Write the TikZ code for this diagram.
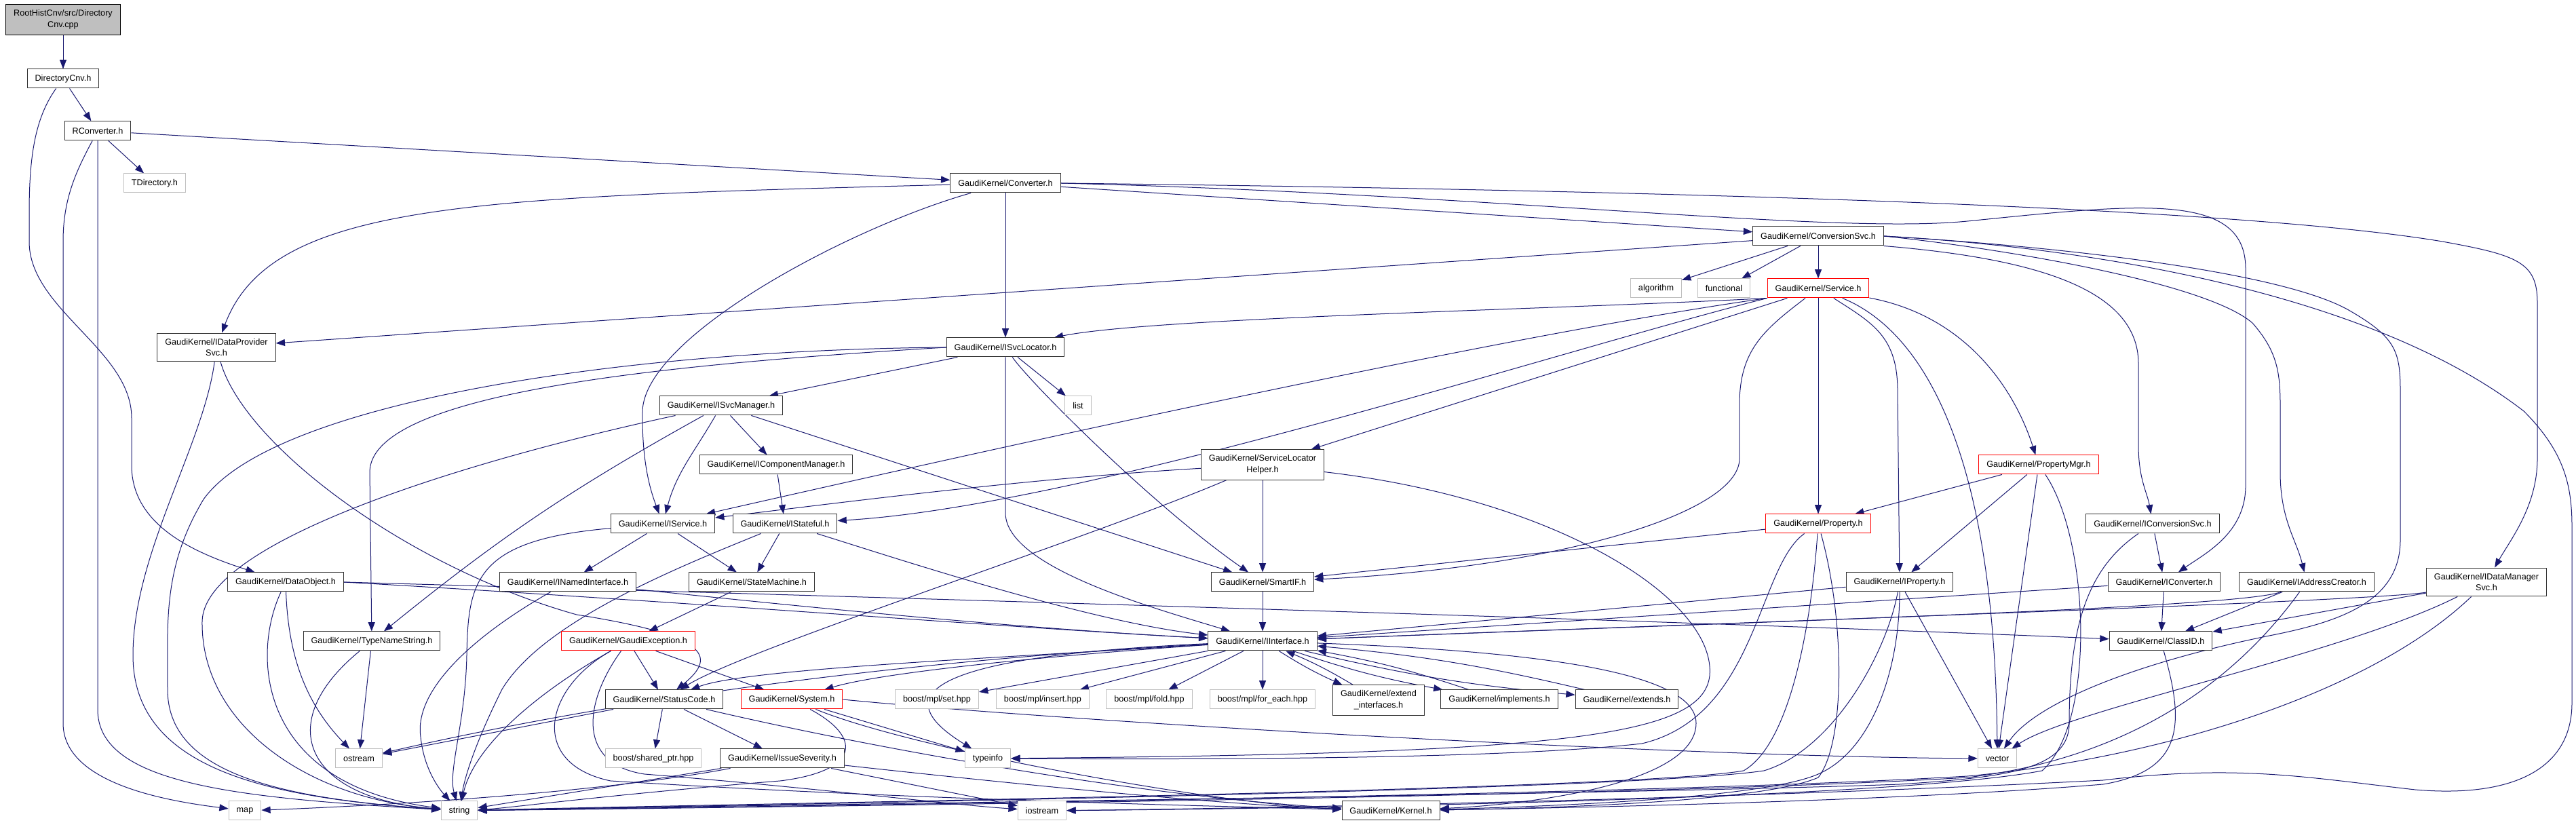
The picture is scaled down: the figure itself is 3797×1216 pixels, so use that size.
\documentclass[tikz,border=0pt]{standalone}
\usepackage{fontspec}
\setmainfont{Liberation Sans}
\usetikzlibrary{arrows.meta}
\definecolor{edgeblue}{HTML}{191970}
\pgfdeclarelayer{bg}
\pgfsetlayers{bg,main}
\begin{document}
\begin{tikzpicture}[x=0.75pt,y=0.75pt,
  hdr/.style={draw=black!80,line width=0.75pt,fill=white,rectangle,minimum height=21pt,inner xsep=8.6pt,inner ysep=6pt,align=center,font=\fontsize{9.5}{12.5}\selectfont},
  hdrred/.style={hdr,draw=red},
  hdrsys/.style={hdr,draw=black!25},
  hdrroot/.style={hdr,fill=black!25,draw=black},
  dep/.style={draw=edgeblue,line width=0.75pt,-{Triangle[length=10pt,width=7.5pt]}}]
\useasboundingbox (0,0) rectangle (3797,1216);
% headers, one row after the other
\node[hdrroot] (root) at (93,1187) {RootHistCnv/src/Directory\\Cnv.cpp};
\node[hdr] (dircnv) at (93,1100) {DirectoryCnv.h};
\node[hdr] (rconv) at (144,1023) {RConverter.h};
\node[hdrsys] (tdir) at (228,946) {TDirectory.h};
\node[hdr] (converter) at (1482,946) {GaudiKernel/Converter.h};
\node[hdr] (convsvc) at (2680,868) {GaudiKernel/ConversionSvc.h};
\node[hdrsys] (algorithm) at (2441,791) {algorithm};
\node[hdrsys] (functional) at (2541,791) {functional};
\node[hdrred] (service) at (2680,791) {GaudiKernel/Service.h};
\node[hdr] (idps) at (319,704) {GaudiKernel/IDataProvider\\Svc.h};
\node[hdr] (svcloc) at (1482,704) {GaudiKernel/ISvcLocator.h};
\node[hdr] (svcmgr) at (1063,618) {GaudiKernel/ISvcManager.h};
\node[hdrsys] (list) at (1589,618) {list};
\node[hdr] (compmgr) at (1144,531) {GaudiKernel/IComponentManager.h};
\node[hdr] (slh) at (1861,531) {GaudiKernel/ServiceLocator\\Helper.h};
\node[hdrred] (propmgr) at (3005,531) {GaudiKernel/PropertyMgr.h};
\node[hdr] (iservice) at (977,444) {GaudiKernel/IService.h};
\node[hdr] (istateful) at (1157,444) {GaudiKernel/IStateful.h};
\node[hdrred] (property) at (2680,444) {GaudiKernel/Property.h};
\node[hdr] (iconvsvc) at (3173,444) {GaudiKernel/IConversionSvc.h};
\node[hdr] (dataobj) at (421,358) {GaudiKernel/DataObject.h};
\node[hdr] (inamed) at (837,358) {GaudiKernel/INamedInterface.h};
\node[hdr] (statemach) at (1108,358) {GaudiKernel/StateMachine.h};
\node[hdr] (smartif) at (1861,358) {GaudiKernel/SmartIF.h};
\node[hdr] (iproperty) at (2800,358) {GaudiKernel/IProperty.h};
\node[hdr] (iconverter) at (3190,358) {GaudiKernel/IConverter.h};
\node[hdr] (iaddr) at (3400,358) {GaudiKernel/IAddressCreator.h};
\node[hdr] (idms) at (3665,358) {GaudiKernel/IDataManager\\Svc.h};
\node[hdr] (tns) at (548,271) {GaudiKernel/TypeNameString.h};
\node[hdrred] (gexc) at (926,271) {GaudiKernel/GaudiException.h};
\node[hdr] (iinterface) at (1861,271) {GaudiKernel/IInterface.h};
\node[hdr] (classid) at (3185,271) {GaudiKernel/ClassID.h};
\node[hdr] (statuscode) at (979,185) {GaudiKernel/StatusCode.h};
\node[hdrred] (system) at (1167,185) {GaudiKernel/System.h};
\node[hdrsys] (mplset) at (1381,185) {boost/mpl/set.hpp};
\node[hdrsys] (mplinsert) at (1537,185) {boost/mpl/insert.hpp};
\node[hdrsys] (mplfold) at (1694,185) {boost/mpl/fold.hpp};
\node[hdrsys] (mplforeach) at (1861,185) {boost/mpl/for\_each.hpp};
\node[hdr] (extif) at (2032,184) {GaudiKernel/extend\\\_interfaces.h};
\node[hdr] (implements) at (2210,185) {GaudiKernel/implements.h};
\node[hdr] (extends) at (2398,185) {GaudiKernel/extends.h};
\node[hdrsys] (ostream) at (529,98) {ostream};
\node[hdrsys] (sharedptr) at (963,98) {boost/shared\_ptr.hpp};
\node[hdr] (severity) at (1153,98) {GaudiKernel/IssueSeverity.h};
\node[hdrsys] (typeinfo) at (1456,98) {typeinfo};
\node[hdrsys] (vector) at (2944,98) {vector};
\node[hdrsys] (map) at (361,21) {map};
\node[hdrsys] (string) at (677,21) {string};
\node[hdrsys] (iostream) at (1536,21) {iostream};
\node[hdr] (kernel) at (2050,21) {GaudiKernel/Kernel.h};

\begin{pgfonlayer}{bg}
% top of the graph
\draw[dep] (root) -- (dircnv);
\draw[dep] (dircnv) -- (rconv);
\draw[dep] (dircnv) .. controls (50,1040) and (43,980) .. (43,900) -- (43,860) .. controls (43,760) and (194,700) .. (194,600) -- (194,530) .. controls (194,440) and (290,400) .. (dataobj);
\draw[dep] (rconv) -- (converter);
\draw[dep] (rconv) -- (tdir);
\draw[dep] (rconv) .. controls (110,960) and (93,920) .. (93,860) -- (93,150) .. controls (93,60) and (250,35) .. (map);
\draw[dep] (rconv.south) -- (144,170) .. controls (144,60) and (350,40) .. (string);
% Converter.h
\draw[dep] (converter) -- (svcloc);
\draw[dep] (converter) .. controls (700,925) and (400,920) .. (idps);
\draw[dep] (converter) .. controls (1250,880) and (950,720) .. (947,610) .. controls (946,530) and (960,490) .. (iservice);
\draw[dep] (converter) -- (convsvc);
\draw[dep] (converter.east) .. controls (2200,930) and (2700,870) .. (2900,890) .. controls (3150,915) and (3310,935) .. (3310,820) -- (3310,500) .. controls (3310,430) and (3250,400) .. (iconverter);
\draw[dep] (converter.east) .. controls (2500,935) and (3300,910) .. (3600,860) .. controls (3710,840) and (3740,830) .. (3740,770) -- (3740,540) .. controls (3740,470) and (3700,420) .. (idms);
% ConversionSvc.h
\draw[dep] (convsvc) -- (algorithm);
\draw[dep] (convsvc) -- (functional);
\draw[dep] (convsvc) -- (service);
\draw[dep] (convsvc) -- (idps);
\draw[dep] (convsvc.south east) .. controls (3000,835) and (3152,790) .. (3152,680) -- (3152,560) .. controls (3152,510) and (3165,490) .. (iconvsvc);
\draw[dep] (convsvc.east) .. controls (2950,850) and (3250,800) .. (3320,740) .. controls (3355,700) and (3361,670) .. (3361,620) -- (3361,520) .. controls (3361,450) and (3385,420) .. (iaddr);
\draw[dep] (convsvc.east) .. controls (3000,855) and (3350,820) .. (3460,760) .. controls (3530,720) and (3538,700) .. (3538,640) -- (3538,420) .. controls (3538,330) and (3450,300) .. (3350,280) .. controls (3150,240) and (3000,180) .. (vector);
\draw[dep] (convsvc.east) .. controls (3100,850) and (3500,780) .. (3720,610) .. controls (3780,550) and (3791,500) .. (3791,440) -- (3791,180) .. controls (3791,80) and (3700,40) .. (3560,52) .. controls (3400,70) and (3300,90) .. (3100,66) .. controls (2600,40) and (1900,25) .. (iostream);
% Service.h
\draw[dep] (service) -- (property);
\draw[dep] (service) .. controls (2760,740) and (2797,720) .. (2797,640) -- (iproperty);
\draw[dep] (service) .. controls (2830,730) and (2940,560) .. (vector);
\draw[dep] (service) .. controls (2900,750) and (2970,640) .. (propmgr);
\draw[dep] (service.south west) .. controls (2300,760) and (1700,748) .. (svcloc);
\draw[dep] (service.south west) .. controls (2200,720) and (1400,540) .. (iservice);
\draw[dep] (service.south west) .. controls (2300,700) and (1600,470) .. (istateful);
\draw[dep] (service) -- (slh);
\draw[dep] (service) .. controls (2600,730) and (2564,700) .. (2564,620) -- (2564,540) .. controls (2564,460) and (2300,380) .. (smartif);
% properties
\draw[dep] (propmgr) -- (property);
\draw[dep] (propmgr) -- (iproperty);
\draw[dep] (propmgr) -- (vector);
\draw[dep] (propmgr) .. controls (3080,420) and (3090,150) .. (3010,80) .. controls (2800,40) and (2000,25) .. (iostream);
\draw[dep] (property) -- (smartif);
\draw[dep] (property) .. controls (2590,380) and (2590,160) .. (2420,120) .. controls (2200,95) and (1700,97) .. (typeinfo);
\draw[dep] (property) .. controls (2670,300) and (2640,120) .. (2570,80) .. controls (2400,50) and (1000,30) .. (string);
\draw[dep] (property) .. controls (2720,300) and (2720,120) .. (2680,70) .. controls (2600,35) and (2300,25) .. (kernel);
\draw[dep] (iproperty) -- (iinterface);
\draw[dep] (iproperty) .. controls (2860,250) and (2910,160) .. (vector);
\draw[dep] (iproperty) .. controls (2780,250) and (2700,110) .. (2600,80) .. controls (2400,50) and (1100,30) .. (string);
\draw[dep] (iproperty) .. controls (2800,230) and (2760,110) .. (2680,75) .. controls (2600,40) and (2300,28) .. (kernel);
% converters, address creator, data manager
\draw[dep] (iconvsvc) -- (iconverter);
\draw[dep] (iconvsvc) .. controls (3080,380) and (3050,300) .. (3050,150) .. controls (3050,80) and (2950,70) .. (2800,60) .. controls (2400,45) and (1000,28) .. (string);
\draw[dep] (iconverter) -- (classid);
\draw[dep] (iconverter) -- (iinterface);
\draw[dep] (iaddr) -- (classid);
\draw[dep] (iaddr) .. controls (3300,320) and (2600,300) .. (iinterface);
\draw[dep] (iaddr) .. controls (3300,220) and (3150,100) .. (2900,70) .. controls (2400,40) and (1000,25) .. (string);
\draw[dep] (idms) .. controls (3500,330) and (2600,300) .. (iinterface);
\draw[dep] (idms) -- (classid);
\draw[dep] (idms) .. controls (3450,250) and (3050,170) .. (vector);
\draw[dep] (idms) .. controls (3500,200) and (3200,100) .. (2900,72) .. controls (2400,42) and (1000,26) .. (string);
\draw[dep] (classid) .. controls (3220,150) and (3220,80) .. (3100,60) .. controls (2800,35) and (2300,25) .. (kernel);
% IInterface.h
\foreach \t in {mplset,mplinsert,mplfold,mplforeach}
  \draw[dep] (iinterface) -- (\t);
\foreach \t in {extif,implements,extends}{
  \draw[dep] (iinterface) to[bend right=4] (\t);
  \draw[dep] (\t) to[bend right=4] (iinterface);
}
\draw[dep] (iinterface) .. controls (1400,250) and (1290,200) .. (typeinfo);
\draw[dep] (iinterface) .. controls (1200,235) and (800,160) .. (ostream);
\draw[dep] (iinterface) .. controls (1450,245) and (1100,230) .. (statuscode);
\draw[dep] (iinterface) .. controls (1550,250) and (1300,225) .. (system);
\draw[dep] (iinterface) .. controls (2300,255) and (2500,220) .. (2500,150) .. controls (2500,60) and (2250,30) .. (kernel);
\draw[dep] (smartif) -- (iinterface);
% ServiceLocatorHelper.h
\draw[dep] (slh) -- (smartif);
\draw[dep] (slh) .. controls (1500,510) and (1200,470) .. (iservice);
\draw[dep] (slh) .. controls (1600,420) and (1100,260) .. (statuscode);
\draw[dep] (slh) .. controls (2300,480) and (2530,330) .. (2520,220) .. controls (2510,130) and (2300,105) .. (typeinfo);
% ISvcLocator.h
\draw[dep] (svcloc) -- (list);
\draw[dep] (svcloc) .. controls (1520,650) and (1700,470) .. (smartif);
\draw[dep] (svcloc.south) -- (1482,460) .. controls (1482,380) and (1700,320) .. (iinterface);
\draw[dep] (svcloc) -- (svcmgr);
\draw[dep] (svcloc.west) .. controls (1000,680) and (545,640) .. (545,520) -- (tns);
\draw[dep] (svcloc.west) .. controls (900,700) and (400,620) .. (300,480) .. controls (240,380) and (247,300) .. (247,200) .. controls (247,80) and (400,40) .. (string);
% ISvcManager.h
\draw[dep] (svcmgr) -- (compmgr);
\draw[dep] (svcmgr) to[out=-120,in=75] (iservice);
\draw[dep] (svcmgr) to[bend right=5] (tns);
\draw[dep] (svcmgr) -- (smartif);
\draw[dep] (svcmgr) .. controls (700,540) and (300,420) .. (298,300) .. controls (296,150) and (450,40) .. (string);
\draw[dep] (compmgr) -- (istateful);
% IService.h, IStateful.h
\draw[dep] (iservice) -- (inamed);
\draw[dep] (iservice) -- (statemach);
\draw[dep] (iservice) .. controls (700,420) and (690,360) .. (688,250) .. controls (686,150) and (660,80) .. (string);
\draw[dep] (istateful) -- (statemach);
\draw[dep] (istateful) .. controls (1300,400) and (1600,300) .. (iinterface);
\draw[dep] (istateful) .. controls (1000,380) and (800,300) .. (740,200) .. controls (700,120) and (685,70) .. (string);
\draw[dep] (inamed) .. controls (1200,320) and (1500,290) .. (iinterface);
\draw[dep] (inamed) .. controls (700,280) and (610,200) .. (620,130) .. controls (625,80) and (650,50) .. (string);
\draw[dep] (statemach) -- (gexc);
% GaudiException.h, StatusCode.h, System.h
\draw[dep] (gexc) -- (statuscode);
\draw[dep] (gexc) -- (system);
\draw[dep] (gexc) .. controls (800,200) and (700,120) .. (string);
\draw[dep] (gexc) .. controls (800,200) and (780,90) .. (900,65) .. controls (1300,40) and (1700,30) .. (kernel);
\draw[dep] (gexc) .. controls (860,180) and (850,90) .. (950,75) .. controls (1200,55) and (1400,30) .. (iostream);
\draw[dep] (statuscode) -- (sharedptr);
\draw[dep] (statuscode) -- (severity);
\draw[dep] (statuscode) -- (ostream);
\draw[dep] (statuscode) .. controls (1300,110) and (1700,40) .. (kernel);
\draw[dep] (system) .. controls (1270,130) and (1270,80) .. (1150,65) .. controls (900,45) and (750,25) .. (string);
\draw[dep] (system) -- (typeinfo);
\draw[dep] (system.east) .. controls (1600,150) and (2500,100) .. (vector);
\draw[dep] (system) .. controls (1350,110) and (1800,30) .. (kernel);
\draw[dep] (severity) .. controls (900,50) and (600,30) .. (map);
\draw[dep] (severity) -- (string);
\draw[dep] (severity) -- (iostream);
\draw[dep] (severity) .. controls (1500,60) and (1800,30) .. (kernel);
% remaining left side
\draw[dep] (tns) -- (ostream);
\draw[dep] (tns) .. controls (400,150) and (450,40) .. (string);
\draw[dep] (dataobj) .. controls (370,250) and (380,60) .. (string);
\draw[dep] (dataobj) .. controls (425,250) and (450,180) .. (ostream);
\draw[dep] (dataobj.east) .. controls (1500,330) and (2500,300) .. (classid);
\draw[dep] (dataobj.east) .. controls (1000,330) and (1500,290) .. (iinterface);
\draw[dep] (idps) .. controls (300,560) and (196,400) .. (196,250) .. controls (196,80) and (400,40) .. (string);
\draw[dep] (idps) .. controls (360,560) and (600,380) .. (850,310) .. controls (1040,280) and (1060,250) .. (statuscode);
\end{pgfonlayer}
\end{tikzpicture}
\end{document}
